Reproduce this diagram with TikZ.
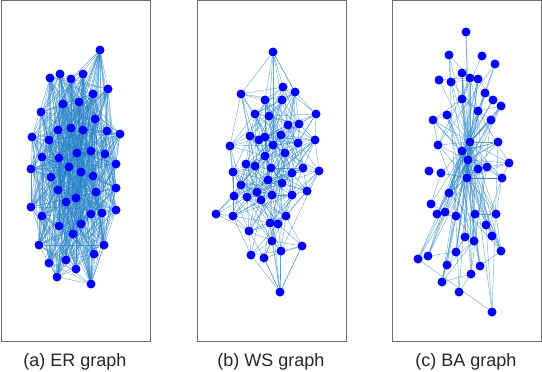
\documentclass[tikz,border=0pt]{standalone}
\usepackage{fontspec}
\setmainfont{Liberation Sans}
\usetikzlibrary{backgrounds,calc}

\definecolor{edgeblue}{RGB}{35,128,198}
\definecolor{framegray}{RGB}{110,110,110}

\tikzset{
  dot/.style={circle, fill=blue, inner sep=0pt, minimum size=9pt},
  edge/.style={draw=edgeblue, line width=0.4pt, opacity=0.7},
  panel/.style={draw=framegray, line width=0.9pt},
  caption/.style={font=\fontsize{18}{22}\selectfont, text=black!85}
}

% pair distance of two named nodes -> \gdd (in pt)
\newcommand{\pairdist}[2]{%
  \path let \p1=(#1), \p2=(#2) in
    \pgfextra{\pgfmathsetmacro\dd{veclen(\x1-\x2,\y1-\y2)}\global\let\gdd\dd};}

\begin{document}
\begin{tikzpicture}[x=1pt, y=-1pt]
  \useasboundingbox (0,0) rectangle (542,372);
  \pgfmathsetseed{11}

  \draw[panel] (1,0.5) rectangle (150,341);
  \draw[panel] (197,0.5) rectangle (346,341);
  \draw[panel] (392,0.5) rectangle (541.5,341);

  % ER graph
  \foreach \x/\y [count=\n] in {100/50, 50/78, 60/74, 71/79, 83/74, 108/89, 93/94, 63/104, 79/102, 41/112,
      95/119, 58/130, 71/128, 83/130, 107/131, 120/134, 32/137, 49/140, 91/151, 77/153,
      105/154, 42/157, 59/158, 116/164, 31/169, 69/167, 81/172, 93/176, 51/177, 116/188,
      58/190, 96/192, 76/198, 66/202, 31/207, 116/210, 102/213, 91/214, 42/216, 59/226,
      81/224, 73/234, 39/245, 104/245, 94/254, 66/260, 49/263, 76/269, 57/277, 91/284}
    \node[dot] (a\n) at (\x,\y) {};

  % WS graph
  \foreach \x/\y [count=\n] in {273/52, 283/87, 295/92, 241/94, 265/100, 282/100, 316/114, 255/114, 269/116, 288/125,
      299/124, 250/136, 265/137, 259/140, 281/135, 315/140, 230/146, 273/145, 298/143, 285/153,
      265/156, 246/164, 255/166, 271/168, 303/168, 319/171, 233/172, 292/173, 268/180, 241/185,
      282/183, 307/191, 234/196, 247/197, 257/192, 272/195, 292/195, 261/200, 216/214, 233/216,
      286/216, 270/223, 278/224, 249/231, 272/241, 302/246, 281/251, 251/255, 264/258, 280/292}
    \node[dot] (b\n) at (\x,\y) {};

  % BA graph
  \foreach \x/\y [count=\n] in {466/32, 449/55, 482/56, 495/64, 462/73, 470/78, 478/79, 439/80, 451/82, 485/93,
      462/99, 493/100, 501/106, 478/111, 447/115, 491/120, 433/120, 438/145, 470/142, 498/142,
      462/151, 468/160, 509/163, 487/167, 478/169, 429/171, 441/173, 467/178, 502/178, 449/193,
      431/204, 437/214, 445/212, 456/216, 475/214, 496/214, 486/225, 465/237, 474/241, 492/236,
      456/252, 501/251, 418/259, 428/256, 447/265, 480/266, 471/274, 442/282, 459/292, 492/312}
    \node[dot] (c\n) at (\x,\y) {};

  \begin{pgfonlayer}{background}
    \foreach \i in {1,...,49} {
      \pgfmathtruncatemacro\js{\i+1}
      \foreach \j in {\js,...,50} {
        % ER: every pair with the same chance
        \pgfmathsetmacro\r{rnd}
        \ifdim\r pt<0.5pt \draw[edge] (a\i) -- (a\j); \fi
        % WS: near pairs, a few rewired
        \pairdist{b\i}{b\j}
        \pgfmathsetmacro\r{rnd}
        \ifdim\gdd pt<46pt \ifdim\r pt<0.8pt \draw[edge] (b\i) -- (b\j); \fi
        \else \ifdim\gdd pt<120pt \ifdim\r pt<0.07pt \draw[edge] (b\i) -- (b\j); \fi \fi \fi
        % BA: some near pairs
        \pairdist{c\i}{c\j}
        \pgfmathsetmacro\r{rnd}
        \ifdim\gdd pt<38pt \ifdim\r pt<0.3pt \draw[edge] (c\i) -- (c\j); \fi
        \else \ifdim\r pt<0.015pt \draw[edge] (c\i) -- (c\j); \fi \fi
      }
    }
    % WS: the lone top and bottom nodes
    \foreach \j in {2,3,4,5,6,9} \draw[edge] (b1) -- (b\j);
    \foreach \j in {45,46,47,48,49} \draw[edge] (b50) -- (b\j);
    % BA: the hubs
    \foreach \h/\p in {19/0.75, 21/0.55, 22/0.55, 28/0.45, 14/0.2} {
      \foreach \i in {1,...,50} {
        \pgfmathsetmacro\r{rnd}
        \ifnum\i=\h \else \ifdim\r pt<\p pt \draw[edge] (c\h) -- (c\i); \fi \fi
      }
    }
  \end{pgfonlayer}

  \node[caption] (capa) at (75,362) {(a) ER graph};
  \node[caption] (capb) at (271,362) {(b) WS graph};
  \node[caption] (capc) at (466,362) {(c) BA graph};
\end{tikzpicture}
\end{document}
